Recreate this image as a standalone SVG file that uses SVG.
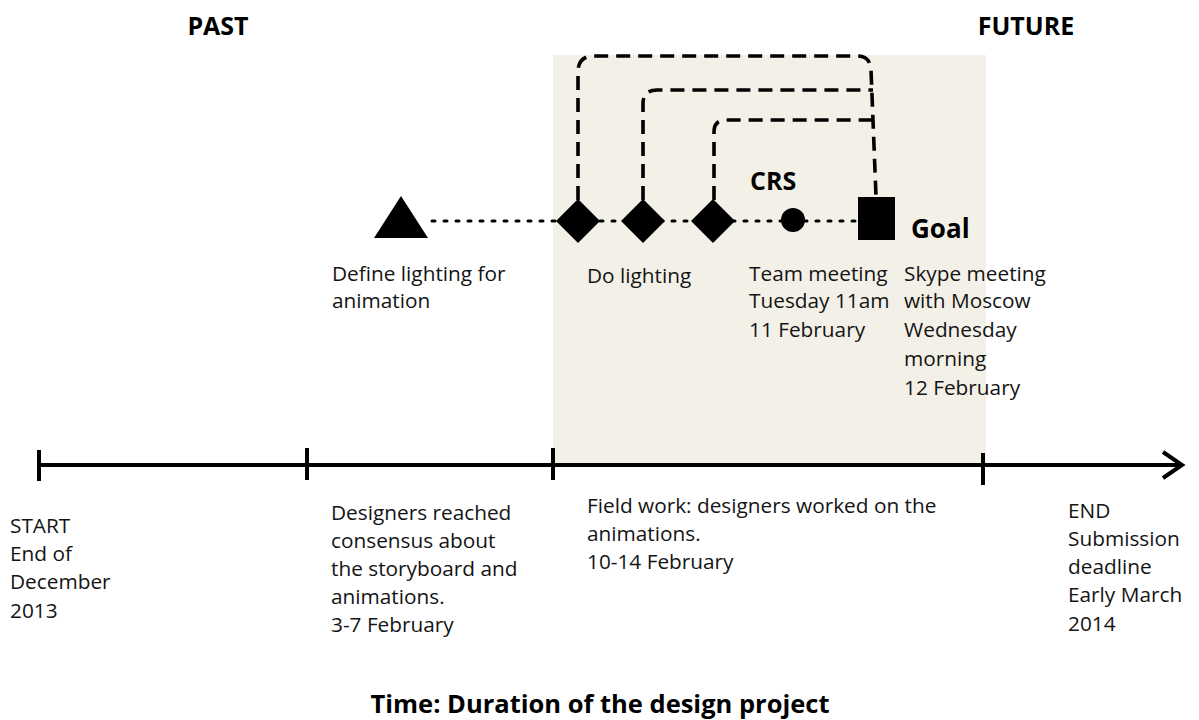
<svg xmlns="http://www.w3.org/2000/svg" width="1199" height="720" viewBox="0 0 1199 720">
<style>
.t{font-family:"Open Sans","Liberation Sans",sans-serif;font-size:20.8px;fill:#141414}
.b{font-family:"Open Sans","Liberation Sans",sans-serif;font-weight:bold;fill:#000}
.dash{fill:none;stroke:#000;stroke-width:3.6;stroke-dasharray:14 8}
.dot{fill:none;stroke:#000;stroke-width:3;stroke-dasharray:3 9;stroke-linecap:round}
.axis{stroke:#000;stroke-width:4;fill:none}
</style>
<rect width="1199" height="720" fill="#fff"/>
<rect id="fieldwork-area" x="553" y="55" width="433" height="410" fill="#f3f0e8"/>
<g id="headers">
<text class="b" x="218" y="35" font-size="25" text-anchor="middle">PAST</text>
<text class="b" x="1026" y="35" font-size="25" text-anchor="middle">FUTURE</text>
</g>
<g id="connectors">
<path class="dot" d="M432 221 H858"/>
<path class="dash" d="M578 200 V72 Q578 56 594 56 H858 Q870 56 871 70 L876 196"/>
<path class="dash" d="M643 200 V104 Q643 90 657 90 H873"/>
<path class="dash" d="M714 200 V132 Q714 120 726 120 H873"/>
</g>
<g id="timeline">
<path class="axis" d="M39 465 H1182"/>
<path class="axis" d="M1163 452 L1182 465 L1163 478" stroke-linejoin="miter"/>
<path class="axis" d="M39 450 V481 M307 448 V480 M553 448 V480 M983 453 V485"/>
</g>
<g id="define-lighting">
<polygon points="401,196 428,238 374,238" fill="#000"/>
<text class="t" x="332" y="281">Define lighting for</text>
<text class="t" x="332" y="308">animation</text>
</g>
<g id="do-lighting">
<polygon points="578,199 600,221 578,243 556,221" fill="#000"/>
<polygon points="643,199 665,221 643,243 621,221" fill="#000"/>
<polygon points="713,199 735,221 713,243 691,221" fill="#000"/>
<text class="t" x="587" y="283">Do lighting</text>
</g>
<g id="crs">
<circle cx="793" cy="220" r="12" fill="#000"/>
<text class="b" x="750" y="190" font-size="25">CRS</text>
<text class="t" x="749" y="281">Team meeting</text>
<text class="t" x="749" y="308">Tuesday 11am</text>
<text class="t" x="749" y="337">11 February</text>
</g>
<g id="goal">
<rect x="858" y="197" width="37" height="43" fill="#000"/>
<text class="b" x="911" y="238" font-size="26">Goal</text>
<text class="t" x="904" y="281">Skype meeting</text>
<text class="t" x="904" y="308">with Moscow</text>
<text class="t" x="904" y="337">Wednesday</text>
<text class="t" x="904" y="366">morning</text>
<text class="t" x="904" y="395">12 February</text>
</g>
<g id="start">
<text class="t" x="10" y="533">START</text>
<text class="t" x="10" y="561">End of</text>
<text class="t" x="10" y="589">December</text>
<text class="t" x="10" y="618">2013</text>
</g>
<g id="consensus">
<text class="t" x="331" y="520">Designers reached</text>
<text class="t" x="331" y="548">consensus about</text>
<text class="t" x="331" y="576">the storyboard and</text>
<text class="t" x="331" y="604">animations.</text>
<text class="t" x="331" y="632">3-7 February</text>
</g>
<g id="fieldwork">
<text class="t" x="587" y="513">Field work: designers worked on the</text>
<text class="t" x="587" y="541">animations.</text>
<text class="t" x="587" y="569">10-14 February</text>
</g>
<g id="end">
<text class="t" x="1068" y="518">END</text>
<text class="t" x="1068" y="546">Submission</text>
<text class="t" x="1068" y="574">deadline</text>
<text class="t" x="1068" y="602">Early March</text>
<text class="t" x="1068" y="631">2014</text>
</g>
<g id="title">
<text class="b" x="600" y="713" font-size="25.5" text-anchor="middle">Time: Duration of the design project</text>
</g>
</svg>
